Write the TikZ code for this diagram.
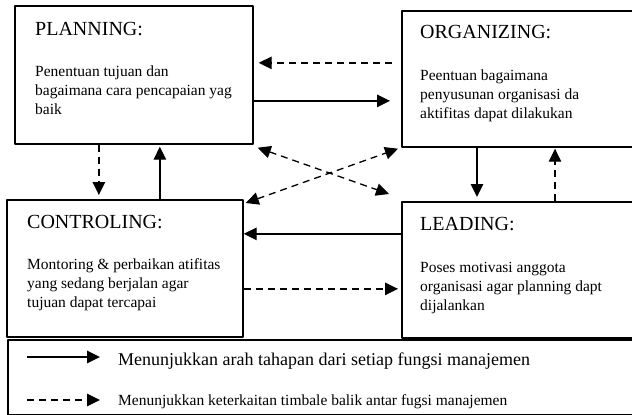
\documentclass[tikz,border=0pt]{standalone}
\usepackage{fontspec}
\setmainfont{Liberation Serif}
\usetikzlibrary{arrows.meta}
\begin{document}
\begin{tikzpicture}[x=1pt, y=-1pt, line join=round,
	box/.style={draw, line width=1.7pt, inner sep=0pt, anchor=north west},
	ttl/.style={anchor=base west, inner sep=0pt, font=\fontsize{20}{24}\selectfont},
	txt/.style={anchor=north west, inner sep=0pt, align=left, font=\fontsize{15.5}{19}\selectfont},
	flow/.style={line width=1.3pt, -{Triangle[length=13pt,width=12.5pt]}},
	link/.style={flow, dash pattern=on 7pt off 5pt},
	both/.style={link, {Triangle[length=13pt,width=12.5pt]}-{Triangle[length=13pt,width=12.5pt]}}]
	\clip (0,0) rectangle (632,415);
	% kotak fungsi
	\node[box, minimum width=238, minimum height=138] (plan) at (14,5) {};
	\node[box, minimum width=250, minimum height=136] (org) at (401,10) {};
	\node[box, minimum width=236, minimum height=137] (ctrl) at (6,199) {};
	\node[box, minimum width=250, minimum height=136] (lead) at (401,201) {};
	\node[ttl] (planT) at (35,35) {PLANNING:};
	\node[txt] (planB) at (35,66) {Penentuan tujuan dan\\bagaimana cara pencapaian yag\\baik};
	\node[ttl] (orgT) at (420,38) {ORGANIZING:};
	\node[txt] (orgB) at (420,70) {Peentuan bagaimana\\penyusunan organisasi da\\aktifitas dapat dilakukan};
	\node[ttl] (ctrlT) at (27,228) {CONTROLING:};
	\node[txt] (ctrlB) at (27,258) {Montoring \& perbaikan atifitas\\yang sedang berjalan agar\\tujuan dapat tercapai};
	\node[ttl] (leadT) at (420,230) {LEADING:};
	\node[txt] (leadB) at (420,262) {Poses motivasi anggota\\organisasi agar planning dapt\\dijalankan};
	% tahapan
	\draw[flow, shorten >=11pt] ([shift={(0,26)}]plan.east) -- ([shift={(0,26)}]plan.east -| org.west);
	\draw[flow, shorten >=4pt] ([shift={(76,0)}]org.south west) -- ([shift={(76,0)}]org.south west |- lead.north);
	\draw[flow] ([shift={(0,-36)}]lead.west) -- ([shift={(0,-36)}]lead.west -| ctrl.east);
	\draw[flow, shorten >=2pt] ([shift={(35,0)}]ctrl.north) -- ([shift={(35,0)}]ctrl.north |- plan.south);
	% timbal balik
	\draw[link, shorten <=9pt, shorten >=5pt] ([shift={(0,-16)}]org.west) -- ([shift={(0,-16)}]org.west -| plan.east);
	\draw[link, shorten >=4pt] ([shift={(-35,0)}]plan.south) -- ([shift={(-35,0)}]plan.south |- ctrl.north);
	\draw[link, shorten >=3pt] ([shift={(0,20.5)}]ctrl.east) -- ([shift={(0,20.5)}]ctrl.east -| lead.west);
	\draw[link, shorten >=1pt] ([shift={(154,0)}]lead.north west) -- ([shift={(154,0)}]lead.north west |- org.south);
	\draw[both] ([shift={(4,3)}]plan.south east) -- ([shift={(-12,-7)}]lead.north west);
	\draw[both] ([shift={(2,4)}]ctrl.north east) -- ([shift={(-3,1)}]org.south west);
	% keterangan
	\node[box, minimum width=645, minimum height=75] (key) at (7,339) {};
	\coordinate (k1) at (27,357);
	\coordinate (k2) at (100,357);
	\coordinate (k3) at (27,400);
	\coordinate (k4) at (100,400);
	\draw[flow] (k1) -- (k2);
	\draw[link] (k3) -- (k4);
	\node[anchor=base west, inner sep=0pt, font=\fontsize{18}{22}\selectfont] (keyA) at (118,365) {Menunjukkan arah tahapan dari setiap fungsi manajemen};
	\node[anchor=base west, inner sep=0pt, font=\fontsize{15.5}{19}\selectfont] (keyB) at (118,405) {Menunjukkan keterkaitan timbale balik antar fugsi manajemen};
\end{tikzpicture}
\end{document}
